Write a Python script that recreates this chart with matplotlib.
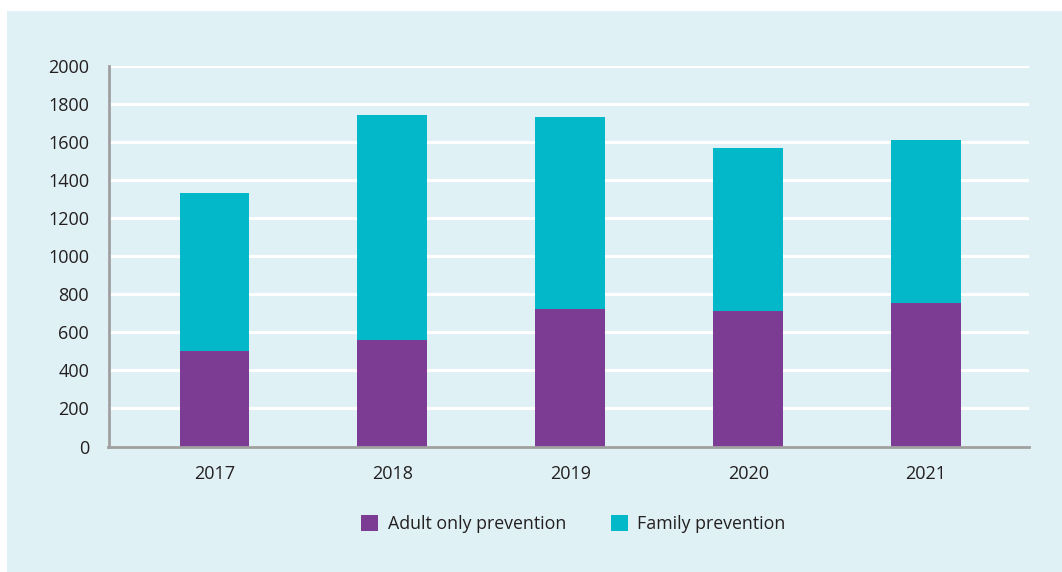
import matplotlib
matplotlib.use("Agg")
import matplotlib.pyplot as plt
from matplotlib.patches import Rectangle
import numpy as np

plt.rcParams['font.family'] = ['Open Sans', 'DejaVu Sans']

years = ['2017', '2018', '2019', '2020', '2021']
adult_only = [500, 560, 725, 712, 755]
family = [832, 1182, 1007, 857, 856]
y_ticks = [0, 200, 400, 600, 800, 1000, 1200, 1400, 1600, 1800, 2000]

PURPLE = '#7d3c94'
TEAL = '#03b9c9'
PANEL = '#dff1f5'
TEXT = '#231f20'
AXIS_GREY = '#a0a0a0'

W, H = 1062, 572
fig = plt.figure(figsize=(W / 100, H / 100), dpi=100, facecolor='white')

# light blue panel behind the chart
fig.patches.append(Rectangle((7 / W, 0), 1 - 7 / W, 1 - 11 / H,
                             transform=fig.transFigure, facecolor=PANEL,
                             edgecolor='none', zorder=-10))

ax = fig.add_axes([108.5 / W, 1 - 446.5 / H, (1029 - 108.5) / W, (446.5 - 66) / H])
ax.set_facecolor('none')

x = np.arange(len(years))
ax.bar(x, adult_only, width=0.393, color=PURPLE, label='Adult only prevention', zorder=3)
ax.bar(x, family, width=0.393, bottom=adult_only, color=TEAL, label='Family prevention', zorder=3)

ax.set_xlim(-0.596, 4.579)
ax.set_ylim(0, 2000)
ax.set_yticks(y_ticks)
ax.set_xticks(x)
ax.set_xticklabels(years)
ax.tick_params(axis='both', length=0, labelsize=13, colors=TEXT)
ax.tick_params(axis='y', pad=14)
ax.tick_params(axis='x', pad=13)

ax.yaxis.grid(True, color='white', linewidth=2.2, zorder=1)
ax.set_axisbelow(True)
for side in ['top', 'right']:
    ax.spines[side].set_visible(False)
for side in ['left', 'bottom']:
    ax.spines[side].set_color(AXIS_GREY)
    ax.spines[side].set_linewidth(2)
    ax.spines[side].set_zorder(4)

fig.legend(loc='center', bbox_to_anchor=(573.5 / W, 1 - 524 / H), ncol=2,
           frameon=False, fontsize=12.8, handlelength=0.95, handleheight=1.0,
           handletextpad=0.55, columnspacing=2.5, labelcolor=TEXT)

fig.savefig('out.png', dpi=100, facecolor='white')
